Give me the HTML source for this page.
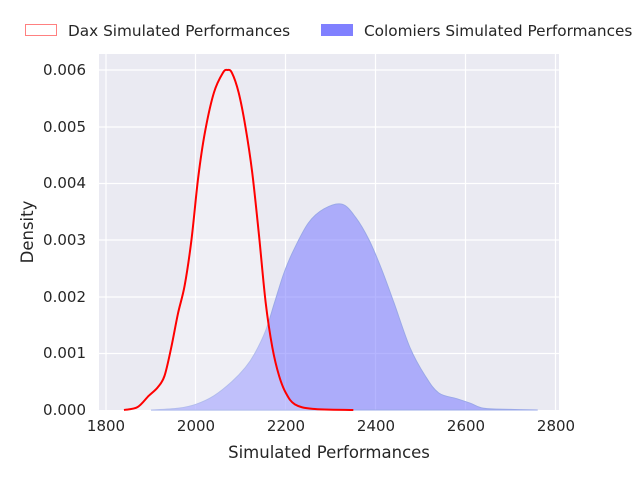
<!DOCTYPE html>
<html><head><meta charset="utf-8"><style>
body{margin:0;background:#fff;}
svg text{font-family:"DejaVu Sans","Liberation Sans",sans-serif;fill:#262626;}
</style></head><body>
<svg id="s" width="640" height="480" xmlns="http://www.w3.org/2000/svg">
<rect x="99" y="54" width="460" height="356" fill="#eaeaf2"/>
<g stroke="#fff" stroke-width="1.2">
<line x1="106" y1="54" x2="106" y2="410"/><line x1="195.5" y1="54" x2="195.5" y2="410"/><line x1="285.5" y1="54" x2="285.5" y2="410"/><line x1="375.5" y1="54" x2="375.5" y2="410"/><line x1="465.5" y1="54" x2="465.5" y2="410"/><line x1="555.5" y1="54" x2="555.5" y2="410"/>
<line x1="99" y1="70" x2="559" y2="70"/><line x1="99" y1="127" x2="559" y2="127"/><line x1="99" y1="183.5" x2="559" y2="183.5"/><line x1="99" y1="240" x2="559" y2="240"/><line x1="99" y1="297" x2="559" y2="297"/><line x1="99" y1="353.5" x2="559" y2="353.5"/>
</g>
<path id="bf" fill="rgba(128,128,255,0.58)" stroke="#9aa8e8" stroke-width="1"/>
<path id="rf" fill="rgba(255,255,255,0.24)"/>
<path id="rl" fill="none" stroke="#ff0000" stroke-width="2"/>
<g font-size="15" text-anchor="end">
<text x="86" y="75">0.006</text><text x="86" y="132">0.005</text><text x="86" y="188">0.004</text><text x="86" y="245">0.003</text><text x="86" y="302">0.002</text><text x="86" y="358">0.001</text><text x="86" y="415">0.000</text>
</g>
<g font-size="15" text-anchor="middle">
<text x="106" y="431">1800</text><text x="196" y="431">2000</text><text x="286" y="431">2200</text><text x="376" y="431">2400</text><text x="466" y="431">2600</text><text x="556" y="431">2800</text>
</g>
<text x="329" y="458" font-size="16.5" text-anchor="middle">Simulated Performances</text>
<text transform="translate(33,232) rotate(-90)" font-size="16.5" text-anchor="middle">Density</text>
<rect x="25.5" y="24.5" width="31" height="11" fill="#fff" stroke="#ff8080"/>
<text x="68" y="36" font-size="15.3">Dax Simulated Performances</text>
<rect x="321.5" y="24.5" width="31" height="11" fill="#8080ff" stroke="#8080ff"/>
<text x="364" y="36" font-size="15.3">Colomiers Simulated Performances</text>
</svg>
<script>
function px(x){return 106+(x-1800)*0.4497}
function py(y){return 410-y*56670}
var red=[[1840,0],[1870,0.00005],[1895,0.00025],[1915,0.0004],[1930,0.0006],[1945,0.0011],[1960,0.0017],[1975,0.0022],[1990,0.003],[2005,0.0041],[2020,0.0049],[2040,0.0056],[2060,0.00595],[2070,0.006],[2080,0.00595],[2095,0.0056],[2110,0.005],[2125,0.0042],[2140,0.0031],[2155,0.0019],[2170,0.0011],[2185,0.0006],[2200,0.0003],[2220,0.0001],[2260,0.00002],[2350,0]];
var blue=[[1900,0],[1960,0.00003],[2000,0.0001],[2040,0.00025],[2080,0.0005],[2110,0.00075],[2131,0.001],[2155,0.0014],[2175,0.0019],[2195,0.0024],[2216,0.0028],[2250,0.0033],[2285,0.00355],[2325,0.00363],[2355,0.0034],[2385,0.003],[2412,0.0025],[2440,0.0019],[2476,0.0011],[2510,0.0006],[2540,0.0003],[2580,0.0002],[2610,0.00012],[2640,0.00003],[2700,0.00001],[2760,0]];
function sm(p){var s="M"+px(p[0][0])+","+py(p[0][1]);for(var i=0;i<p.length-1;i++){var a=p[Math.max(0,i-1)],b=p[i],c=p[i+1],d=p[Math.min(p.length-1,i+2)];var x1=px(b[0])+(px(c[0])-px(a[0]))/6,y1=py(b[1])+(py(c[1])-py(a[1]))/6,x2=px(c[0])-(px(d[0])-px(b[0]))/6,y2=py(c[1])-(py(d[1])-py(b[1]))/6;s+=" C"+x1+","+y1+" "+x2+","+y2+" "+px(c[0])+","+py(c[1]);}return s;}
var r=sm(red),b=sm(blue);
document.getElementById("rl").setAttribute("d",r);
document.getElementById("rf").setAttribute("d",r+" Z");
document.getElementById("bf").setAttribute("d",b+" Z");
</script>
</body></html>
